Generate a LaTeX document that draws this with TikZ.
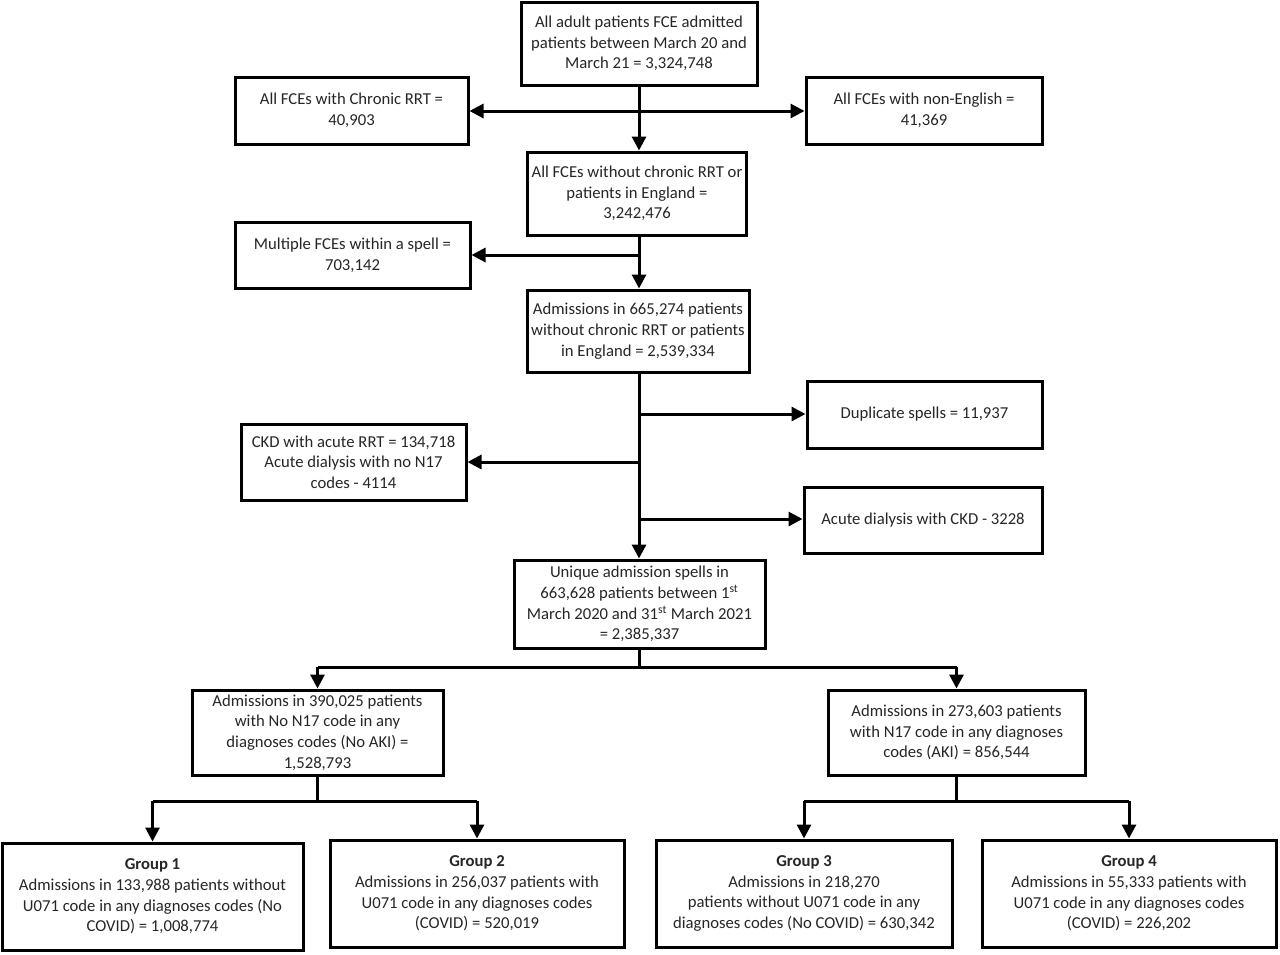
\documentclass[tikz,border=0pt]{standalone}
\usepackage{fontspec}
\setmainfont{Carlito}
\usetikzlibrary{arrows.meta}
\newdimen\pxu \pxu=0.75pt
\begin{document}
\begin{tikzpicture}[x=0.75pt,y=-0.75pt,
 box/.style={draw=black, line width=2.25pt, align=center, inner sep=0pt, font=\fontsize{12.5}{15.5}\selectfont, text=black!85},
 arr/.style={line width=2.25pt, -{Triangle[length=10.5pt,width=10.5pt]}},
 ln/.style={line width=2.25pt}]
\useasboundingbox[fill=white] (0,0) rectangle (1280,954);

\node[box, minimum width=236\pxu, minimum height=83\pxu] (top) at (639,43.5) {All adult patients FCE admitted\\patients between March 20 and\\March 21 = 3,324,748};
\node[box, minimum width=233\pxu, minimum height=67\pxu] (rrt) at (351.5,110.5) {All FCEs with Chronic RRT =\\40,903};
\node[box, minimum width=236\pxu, minimum height=67\pxu] (noneng) at (924,110.5) {All FCEs with non-English =\\41,369};
\node[box, minimum width=219\pxu, minimum height=83\pxu] (fce) at (637,193.5) {All FCEs without chronic RRT or\\patients in England =\\3,242,476};
\node[box, minimum width=235\pxu, minimum height=66\pxu] (multi) at (352.5,255) {Multiple FCEs within a spell =\\703,142};
\node[box, minimum width=222\pxu, minimum height=82\pxu] (adm) at (638,331) {Admissions in 665,274 patients\\without chronic RRT or patients\\in England = 2,539,334};
\node[box, minimum width=235\pxu, minimum height=67\pxu] (dup) at (924.5,414.5) {Duplicate spells = 11,937};
\node[box, minimum width=225\pxu, minimum height=76\pxu] (ckd) at (353.5,462) {CKD with acute RRT = 134,718\\Acute dialysis with no N17\\codes - 4114};
\node[box, minimum width=238\pxu, minimum height=66\pxu] (acd) at (923,520) {Acute dialysis with CKD - 3228};
\node[box, minimum width=251\pxu, minimum height=88\pxu] (uniq) at (639.5,604) {Unique admission spells in\\663,628 patients between 1\textsuperscript{st}\\March 2020 and 31\textsuperscript{st} March 2021\\= 2,385,337};
\node[box, minimum width=251\pxu, minimum height=85\pxu] (noaki) at (317.5,732.5) {Admissions in 390,025 patients\\with No N17 code in any\\diagnoses codes (No AKI) =\\1,528,793};
\node[box, minimum width=257\pxu, minimum height=85\pxu] (aki) at (956.5,732.5) {Admissions in 273,603 patients\\with N17 code in any diagnoses\\codes (AKI) = 856,544};
\node[box, minimum width=301\pxu, minimum height=107\pxu] (g1) at (152.5,896.5) {\textbf{Group 1}\\Admissions in 133,988 patients without\\U071 code in any diagnoses codes (No\\COVID) = 1,008,774};
\node[box, minimum width=294\pxu, minimum height=107\pxu] (g2) at (477,893.5) {\textbf{Group 2}\\Admissions in 256,037 patients with\\U071 code in any diagnoses codes\\(COVID) = 520,019};
\node[box, minimum width=296\pxu, minimum height=107\pxu] (g3) at (804,893.5) {\textbf{Group 3}\\Admissions in 218,270\\patients without U071 code in any\\diagnoses codes (No COVID) = 630,342};
\node[box, minimum width=294\pxu, minimum height=107\pxu] (g4) at (1129,893.5) {\textbf{Group 4}\\Admissions in 55,333 patients with\\U071 code in any diagnoses codes\\(COVID) = 226,202};

% top section
\coordinate (j1) at (639,111);
\draw[arr] (top.south -| j1) -- (fce.north -| j1);
\draw[arr] (j1) -- (rrt.east |- j1);
\draw[arr] (j1) -- (noneng.west |- j1);
\coordinate (j2) at (639,255);
\draw[arr] (fce.south -| j2) -- (adm.north -| j2);
\draw[arr] (j2) -- (multi.east |- j2);
% middle section
\coordinate (j3) at (639,414);
\coordinate (j4) at (639,462);
\coordinate (j5) at (639,519);
\draw[arr] (adm.south -| j3) -- (uniq.north -| j3);
\draw[arr] (j3) -- (dup.west |- j3);
\draw[arr] (j4) -- (ckd.east |- j4);
\draw[arr] (j5) -- (acd.west |- j5);
% split
\coordinate (s1) at (639,667);
\draw[ln] (uniq.south -| s1) -- (s1);
\draw[ln] (s1 -| noaki.north) -- (s1 -| aki.north);
\draw[arr] (s1 -| noaki.north) -- (noaki.north);
\draw[arr] (s1 -| aki.north) -- (aki.north);
% lower left
\coordinate (s2) at (317.5,801);
\draw[ln] (noaki.south) -- (s2);
\draw[ln] (s2 -| g1.north) -- (s2 -| g2.north);
\draw[arr] (s2 -| g1.north) -- (g1.north);
\draw[arr] (s2 -| g2.north) -- (g2.north);
% lower right
\coordinate (s3) at (956.5,801);
\draw[ln] (aki.south) -- (s3);
\draw[ln] (s3 -| g3.north) -- (s3 -| g4.north);
\draw[arr] (s3 -| g3.north) -- (g3.north);
\draw[arr] (s3 -| g4.north) -- (g4.north);
\end{tikzpicture}
\end{document}
